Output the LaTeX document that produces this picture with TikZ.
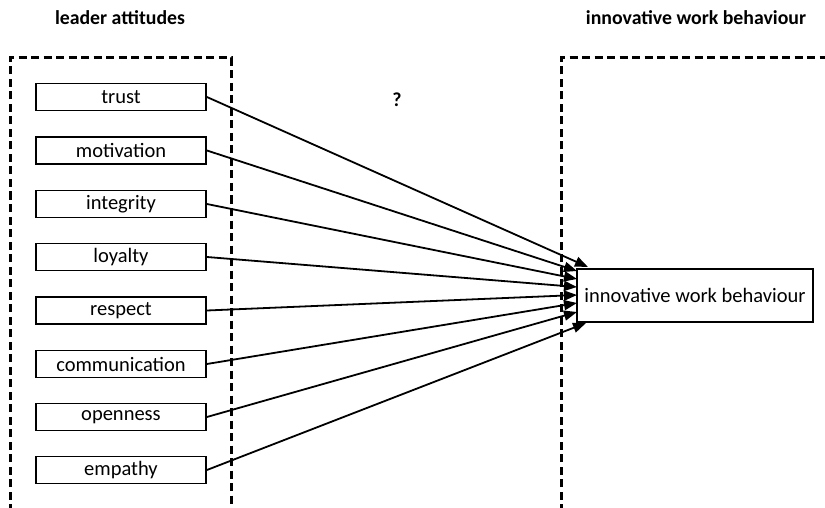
\documentclass[tikz,border=0pt]{standalone}
\usepackage{fontspec}
\setmainfont{Carlito}
\usetikzlibrary{arrows.meta}
\begin{document}
\begin{tikzpicture}[x=1pt,y=-1pt,
  attr/.style={draw, line width=1.8pt, minimum width=170pt, minimum height=27pt, inner sep=0pt,
    font=\fontsize{20.5}{22}\selectfont},
  target/.style={draw, line width=1.8pt, minimum width=236pt, minimum height=53pt, inner sep=0pt,
    font=\fontsize{20.5}{22}\selectfont},
  title/.style={font=\fontsize{19.8}{22}\selectfont\bfseries},
  group/.style={line width=3pt, dash pattern=on 8pt off 4.5pt},
  link/.style={line width=1.8pt, -{Triangle[length=13pt,width=10pt]}, shorten >=0pt}]
\useasboundingbox (0,0) rectangle (825,508);
\fill[white] (0,0) rectangle (825,508);
% group frames
\draw[group] (10,512) -- (10,58) -- (231,58) -- (231,512);
\draw[group] (561,512) -- (561,58) -- (830,58);
% titles
\node[title] (t1) at (120,18) {leader attitudes};
\node[title] (t2) at (696,18) {innovative work behaviour};
\node[title] (q) at (397,100) {?};
% attributes
\node[attr] (a1) at (121,97) {trust};
\node[attr] (a2) at (121,150.5) {motivation};
\node[attr] (a3) at (121,204) {integrity};
\node[attr] (a4) at (121,257) {loyalty};
\node[attr] (a5) at (121,310.5) {respect};
\node[attr] (a6) at (121,364) {communication};
\node[attr] (a7) at (121,417) {openness};
\node[attr] (a8) at (121,470) {empathy};
% target
\node[target] (iwb) at (695,295.5) {innovative work behaviour};
\coordinate (e1) at (588,267);
\coordinate (e2) at (577,271);
\coordinate (e3) at (577,279);
\coordinate (e4) at (577,287);
\coordinate (e5) at (577,295);
\coordinate (e6) at (577,303);
\coordinate (e7) at (577,312);
\coordinate (e8) at (586,323);
\foreach \i in {1,...,8}{
  \draw[link] (a\i.east) -- (e\i);
}
\end{tikzpicture}
\end{document}
